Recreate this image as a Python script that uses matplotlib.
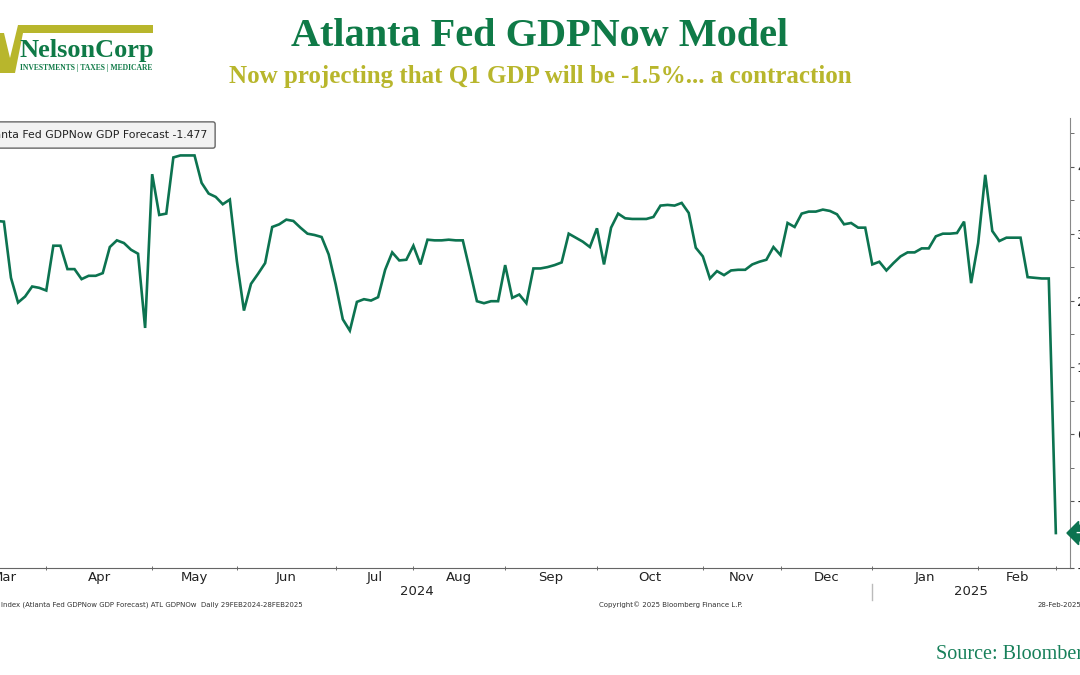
import matplotlib
import numpy as np

matplotlib.use("Agg")
import matplotlib.pyplot as plt
from matplotlib.patches import Polygon
from matplotlib.ticker import FixedLocator, MultipleLocator


# GDPNow estimate at each model update (Bloomberg plots one step per observation)
gdpnow = [
    3.19, 3.18, 2.34, 1.97, 2.06, 2.21, 2.19, 2.15, 2.82, 2.82,
    2.47, 2.47, 2.32, 2.37, 2.37, 2.41, 2.80, 2.90, 2.86, 2.76,
    2.70, 1.59, 3.89, 3.28, 3.30, 4.14, 4.17, 4.17, 4.17, 3.76,
    3.60, 3.55, 3.44, 3.51, 2.59, 1.85, 2.25, 2.40, 2.56, 3.10,
    3.14, 3.21, 3.19, 3.09, 3.00, 2.98, 2.95, 2.69, 2.24, 1.72,
    1.55, 1.98, 2.02, 2.00, 2.05, 2.46, 2.72, 2.60, 2.61, 2.82,
    2.54, 2.91, 2.90, 2.90, 2.91, 2.90, 2.90, 2.45, 1.99, 1.96,
    1.99, 1.99, 2.53, 2.04, 2.09, 1.96, 2.48, 2.48, 2.50, 2.53,
    2.57, 3.00, 2.94, 2.88, 2.80, 3.08, 2.54, 3.09, 3.30, 3.23,
    3.22, 3.22, 3.22, 3.25, 3.42, 3.43, 3.42, 3.46, 3.31, 2.79,
    2.66, 2.33, 2.44, 2.38, 2.45, 2.46, 2.46, 2.54, 2.58, 2.61,
    2.80, 2.68, 3.16, 3.10, 3.30, 3.33, 3.33, 3.36, 3.34, 3.29,
    3.14, 3.16, 3.09, 3.09, 2.54, 2.58, 2.45, 2.56, 2.66, 2.72,
    2.72, 2.78, 2.78, 2.96, 3.00, 3.00, 3.01, 3.18, 2.26, 2.86,
    3.88, 3.04, 2.89, 2.94, 2.94, 2.94, 2.35, 2.34, 2.33, 2.33,
    -1.477,
]
last_value = -1.477

month_labels = ["Mar", "Apr", "May", "Jun", "Jul", "Aug", "Sep", "Oct", "Nov", "Dec", "Jan", "Feb"]
# observation index where each month starts (last entry = start of Mar 2025)
month_starts = [-5, 7, 22, 34, 48, 59, 72, 85, 100, 111, 124, 139, 150]
year_labels = ["2024", "2025"]
year_starts = [-5, 124, 152]

GREEN = "#0c7350"
TITLE_GREEN = "#0f7a47"
OLIVE = "#b8b62c"

fig = plt.figure(figsize=(10.8, 6.75), dpi=100)

# ---- chart area (Bloomberg style, cropped on the left) ----
ax = fig.add_axes([-0.0356, 0.1585, 1.0263, 0.6667])
x = np.arange(len(gdpnow))
ax.plot(x, gdpnow, color=GREEN, lw=1.9, solid_joinstyle="miter")
ax.set_xlim(year_starts[0], year_starts[-1])
ax.set_ylim(-2, 4.73)

for side in ["top", "left"]:
    ax.spines[side].set_visible(False)
ax.spines["bottom"].set_color("#666666")
ax.spines["right"].set_color("#888888")

mids = [(a + b) / 2 for a, b in zip(month_starts[:-1], month_starts[1:])]
ax.xaxis.set_major_locator(FixedLocator(mids))
ax.set_xticklabels(month_labels)
ax.xaxis.set_minor_locator(FixedLocator(month_starts))
ax.tick_params(axis="x", which="major", length=0, pad=2, labelsize=9.5, labelcolor="#222222")
ax.tick_params(axis="x", which="minor", length=2.5, direction="inout", color="#555555")

ax.yaxis.tick_right()
ax.yaxis.set_major_locator(MultipleLocator(1))
ax.yaxis.set_minor_locator(MultipleLocator(0.5))
ax.tick_params(axis="y", which="both", direction="out", length=3, color="#555555",
               labelsize=9.5, labelcolor="#222222", pad=2)

xt = ax.get_xaxis_transform()
for lab, a, b in zip(year_labels, year_starts[:-1], year_starts[1:]):
    ax.text((a + b) / 2, -0.053, lab, transform=xt, ha="center", va="center",
            fontsize=9.5, color="#222222", clip_on=False)
ax.plot([year_starts[1], year_starts[1]], [-0.036, -0.072], transform=xt,
        color="#bbbbbb", lw=1, clip_on=False)

# last value tag on the right axis
ax.annotate(f"{last_value:.3f}", xy=(1.0, last_value), xycoords=("axes fraction", "data"),
            xytext=(4, 0), textcoords="offset points", ha="left", va="center",
            fontsize=8, color="white", fontweight="bold",
            bbox=dict(boxstyle="larrow,pad=0.25", fc=GREEN, ec=GREEN), annotation_clip=False)

# legend box
fig.text(207 / 1080, 1 - 135 / 675, f"Atlanta Fed GDPNow GDP Forecast {last_value:.3f}",
         ha="right", va="center", fontsize=7.8, color="#222222",
         bbox=dict(boxstyle="round,pad=0.75,rounding_size=0.2", fc="#f2f2f2", ec="#666666", lw=1))

# footer lines
fig.text(1 / 1080, 1 - 605 / 675,
         "Index (Atlanta Fed GDPNow GDP Forecast) ATL GDPNOw  Daily 29FEB2024-28FEB2025",
         ha="left", va="center", fontsize=5, color="#333333")
fig.text(671 / 1080, 1 - 605 / 675, "Copyright\u00a9 2025 Bloomberg Finance L.P.",
         ha="center", va="center", fontsize=5, color="#333333")
fig.text(1038 / 1080, 1 - 605 / 675, "28-Feb-2025",
         ha="left", va="center", fontsize=5, color="#333333")

# ---- titles ----
fig.text(0.5, 1 - 37 / 675, "Atlanta Fed GDPNow Model", ha="center", va="center",
         fontsize=29, fontweight="bold", family="Liberation Serif", color=TITLE_GREEN)
fig.text(0.5, 1 - 76 / 675, "Now projecting that Q1 GDP will be -1.5%... a contraction",
         ha="center", va="center", fontsize=18, fontweight="bold",
         family="Liberation Serif", color=OLIVE)
fig.text(936 / 1080, 1 - 655 / 675, "Source: Bloomberg", ha="left", va="center",
         fontsize=14.5, family="Liberation Serif", color="#17805a")

# ---- NelsonCorp logo ----
logo = [(0, 33), (4, 33), (10, 58), (18, 25), (153, 25), (153, 33), (23, 33),
        (15, 73), (0, 73)]
fig.patches.append(Polygon([(px / 1080, 1 - py / 675) for px, py in logo],
                           closed=True, transform=fig.transFigure, fc=OLIVE, ec="none"))
fig.text(20 / 1080, 1 - 51 / 675, "NelsonCorp", ha="left", va="center", fontsize=19,
         fontweight="bold", family="Liberation Serif", color=TITLE_GREEN)
fig.text(20 / 1080, 1 - 68 / 675, "INVESTMENTS | TAXES | MEDICARE", ha="left", va="center",
         fontsize=5.5, fontweight="bold", family="Liberation Serif", color=TITLE_GREEN)

fig.savefig("out.png", dpi=100)
